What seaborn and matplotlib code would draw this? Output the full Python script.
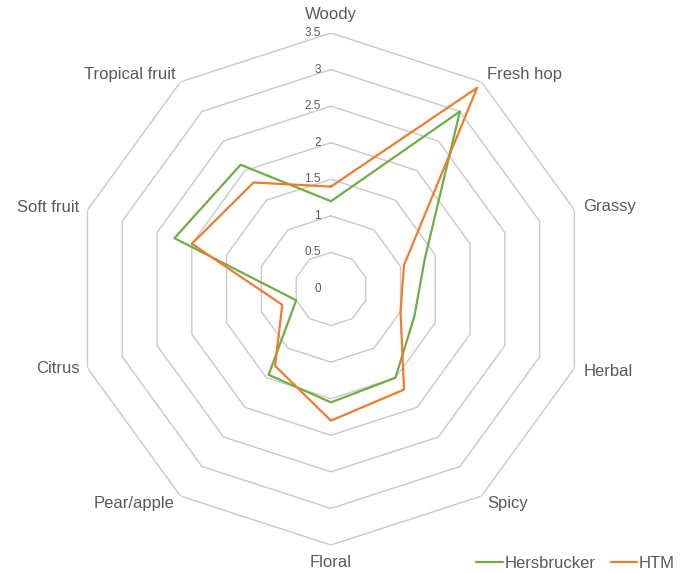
import numpy as np
import pandas as pd
import seaborn as sns
from matplotlib import pyplot as plt

# aroma attributes, clockwise from the top
attributes = ['Woody', 'Fresh hop', 'Grassy', 'Herbal', 'Spicy',
              'Floral', 'Pear/apple', 'Citrus', 'Soft fruit', 'Tropical fruit']
hersbrucker = [1.2, 3.0, 1.35, 1.2, 1.5, 1.55, 1.45, 0.5, 2.25, 2.1]
htm = [1.4, 3.4, 1.05, 1.0, 1.7, 1.8, 1.3, 0.7, 2.0, 1.8]
ring_levels = [0, 0.5, 1, 1.5, 2, 2.5, 3, 3.5]
ring_labels = ['0', '0.5', '1', '1.5', '2', '2.5', '3', '3.5']

green = '#70AD47'
orange = '#ED7D31'
text_col = '#595959'
grid_col = '#c9c9c9'

sns.set_style('white')
plt.rcParams['font.family'] = ['Liberation Sans', 'DejaVu Sans']

n = len(attributes)
theta = np.linspace(0, 2 * np.pi, n, endpoint=False)
theta_closed = np.append(theta, 2 * np.pi)

# long table, first point repeated to close each polygon
rows = []
for name, vals in [('Hersbrucker', hersbrucker), ('HTM', htm)]:
    closed = list(vals) + [vals[0]]
    for t, v in zip(theta_closed, closed):
        rows.append({'theta': t, 'score': v, 'variety': name})
df = pd.DataFrame(rows)

fig = plt.figure(figsize=(6.84, 5.73), dpi=100)
ax = fig.add_axes([0.1096, 0.0489, 0.7485, 0.8935], projection='polar')
ax.set_theta_offset(np.pi / 2)
ax.set_theta_direction(-1)

# decagon grid
for lvl in ring_levels[1:]:
    ax.plot(theta_closed, [lvl] * (n + 1), color=grid_col, lw=1.0, zorder=1)

sns.lineplot(ax=ax, data=df, x='theta', y='score', hue='variety',
             palette={'Hersbrucker': green, 'HTM': orange},
             sort=False, estimator=None, lw=1.6, zorder=3)

ax.set_ylim(0, 3.5)
ax.grid(False)
ax.spines['polar'].set_visible(False)
ax.set_xticks([])
ax.set_yticks([])
ax.set_xlabel('')
ax.set_ylabel('')

# radial value labels along the Woody axis
for lvl, lab in zip(ring_levels, ring_labels):
    ax.annotate(lab, xy=(0, lvl), xytext=(-10, 0), textcoords='offset pixels',
                ha='right', va='center', fontsize=8.5, color=text_col)

# category labels just outside the outer ring
label_pos = {
    'Woody': ('center', 0, 19),
    'Fresh hop': ('left', 6, 7),
    'Grassy': ('left', 9, 3),
    'Herbal': ('left', 9, -3),
    'Spicy': ('left', 6, -7),
    'Floral': ('center', 0, -18),
    'Pear/apple': ('right', -6, -7),
    'Citrus': ('right', -8, 0),
    'Soft fruit': ('right', -8, 2),
    'Tropical fruit': ('right', -5, 7),
}
for t, lab in zip(theta, attributes):
    ha, dx, dy = label_pos[lab]
    ax.annotate(lab, xy=(t, 3.5), xytext=(dx, dy), textcoords='offset pixels',
                ha=ha, va='center', fontsize=12, color=text_col,
                annotation_clip=False)

sns.move_legend(ax, 'center left', bbox_to_anchor=(468 / 684, 1 - 563 / 573),
                bbox_transform=fig.transFigure, ncol=2, title=None,
                frameon=False, fontsize=12, borderpad=0, handlelength=1.6,
                handletextpad=0.1, columnspacing=0.9, labelcolor=text_col)

fig.savefig('out.png', dpi=100)
